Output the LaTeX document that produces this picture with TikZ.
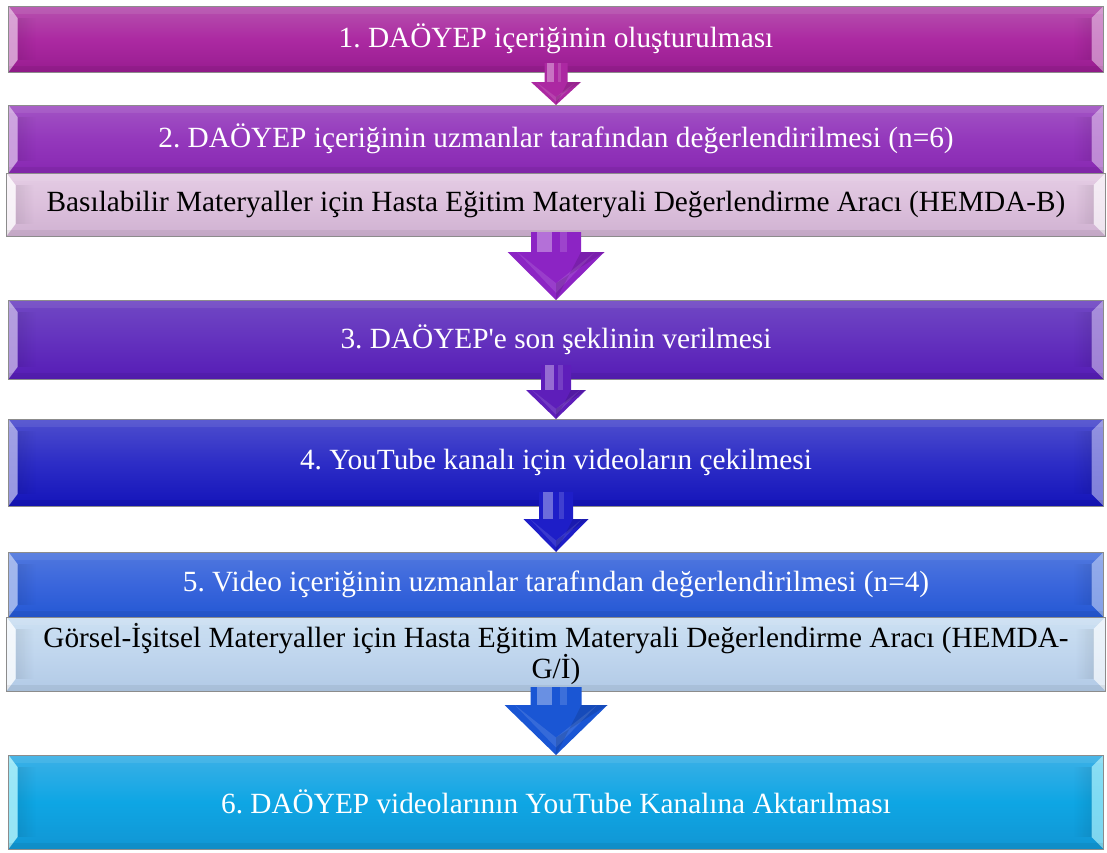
\documentclass[tikz,border=0pt]{standalone}
\usepackage{fontspec}
\setmainfont{Liberation Serif}
\usetikzlibrary{calc,fadings}
\frenchspacing
\definecolor{c1t}{RGB}{182,82,174}\definecolor{c1m}{RGB}{172,42,162}\definecolor{c1b}{RGB}{152,28,144}
\definecolor{c2t}{RGB}{162,84,196}\definecolor{c2m}{RGB}{148,56,188}\definecolor{c2b}{RGB}{136,40,178}
\definecolor{s1t}{RGB}{228,204,228}\definecolor{s1m}{RGB}{220,192,220}\definecolor{s1b}{RGB}{208,178,210}
\definecolor{c3t}{RGB}{112,72,196}\definecolor{c3m}{RGB}{100,50,190}\definecolor{c3b}{RGB}{86,28,182}
\definecolor{c4t}{RGB}{78,78,206}\definecolor{c4m}{RGB}{45,45,198}\definecolor{c4b}{RGB}{20,20,186}
\definecolor{c5t}{RGB}{80,120,222}\definecolor{c5m}{RGB}{58,102,220}\definecolor{c5b}{RGB}{36,88,212}
\definecolor{s2t}{RGB}{204,224,242}\definecolor{s2m}{RGB}{192,214,238}\definecolor{s2b}{RGB}{178,202,230}
\definecolor{c6t}{RGB}{60,176,230}\definecolor{c6m}{RGB}{14,166,228}\definecolor{c6b}{RGB}{18,150,212}
\definecolor{a1}{RGB}{172,40,162}\definecolor{a2}{RGB}{140,36,196}\definecolor{a3}{RGB}{94,30,186}
\definecolor{a4}{RGB}{30,30,200}\definecolor{a5}{RGB}{26,86,212}
\tikzset{
  box/.style={draw=black!45, line width=1pt, minimum width=1095pt, inner sep=0pt, outer sep=0pt,
    font=\fontsize{29.3}{30}\selectfont, text=white, align=center},
  subbox/.style={box, minimum width=1099pt, text=black},
}
\newcommand\bev[2]{%
  \fill[#2, opacity=0.8] (#1.north west) -- ++(9,12) -- ($(#1.south west)+(9,-12)$) -- (#1.south west) -- cycle;
  \fill[black, path fading=east, opacity=0.08] ($(#1.north west)+(9,12)$) -- ++(18,0) -- ($(#1.south west)+(27,-12)$) -- ($(#1.south west)+(9,-12)$) -- cycle;
  \fill[#2, opacity=0.65] (#1.north east) -- ++(-12,12) -- ($(#1.south east)+(-12,-12)$) -- (#1.south east) -- cycle;
  \fill[black, path fading=west, opacity=0.08] ($(#1.north east)+(-12,12)$) -- ++(-18,0) -- ($(#1.south east)+(-30,-12)$) -- ($(#1.south east)+(-12,-12)$) -- cycle;
  \fill[white, opacity=0.08] (#1.north west) rectangle ($(#1.north east)+(0,8)$);
  \fill[black, opacity=0.06] ($(#1.south west)+(0,-6)$) rectangle (#1.south east);
  \draw[black!45, line width=1pt] (#1.north west) rectangle (#1.south east);
}
% from, to, shaft half width, head half width, head length, overlap, colour
\newcommand\barrow[7]{%
  \fill[#7] ($(#1.south)+(-#3,-#6)$) -- ($(#2.north)+(-#3,-#5)$) -- ($(#2.north)+(-#4,-#5)$)
     -- (#2.north) -- ($(#2.north)+(#4,-#5)$) -- ($(#2.north)+(#3,-#5)$) -- ($(#1.south)+(#3,-#6)$) -- cycle;
  \fill[white, opacity=0.35] ($(#1.south)+(-#3*0.75,-#6)$) rectangle ($(#2.north)+(-#3*0.15,-#5)$);
  \fill[white, opacity=0.15] ($(#1.south)+(#3*0.15,-#6)$) rectangle ($(#2.north)+(#3*0.45,-#5)$);
  \fill[white, opacity=0.12] ($(#2.north)+(-#4*0.8,-#5)$) -- ($(#2.north)+(0,-#5*0.35)$) -- ($(#2.north)+(#4*0.8,-#5)$) -- ($(#2.north)+(0,-#5*0.15)$) -- cycle;
  \fill[black, opacity=0.12] ($(#2.north)+(0,-#5*0.35)$) -- ($(#2.north)+(#4,-#5)$) -- ($(#2.north)+(#3,-#5)$) -- (#2.north) -- cycle;
}
\begin{document}
\begin{tikzpicture}[x=1pt,y=-1pt]
\useasboundingbox (0,0) rectangle (1107,852);
\fill[white] (0,0) rectangle (1107,852);
\node[box, minimum height=66pt, top color=c1t, bottom color=c1b, middle color=c1m] (b1) at (556,39) {1. DAÖYEP içeriğinin oluşturulması};
\node[box, minimum height=68pt, top color=c2t, bottom color=c2b, middle color=c2m] (b2) at (556,139) {2. DAÖYEP içeriğinin uzmanlar tarafından değerlendirilmesi (n=6)};
\node[subbox, minimum height=63pt, top color=s1t, bottom color=s1b, middle color=s1m] (s1) at (556,204.5) {Basılabilir Materyaller için Hasta Eğitim Materyali Değerlendirme Aracı (HEMDA-B)};
\node[box, minimum height=79pt, top color=c3t, bottom color=c3b, middle color=c3m] (b3) at (556,339.5) {3. DAÖYEP\textquotesingle e son şeklinin verilmesi};
\node[box, minimum height=87pt, top color=c4t, bottom color=c4b, middle color=c4m] (b4) at (556,462.5) {4. YouTube kanalı için videoların çekilmesi};
\node[box, minimum height=65pt, top color=c5t, bottom color=c5b, middle color=c5m] (b5) at (556,584.5) {5. Video içeriğinin uzmanlar tarafından değerlendirilmesi (n=4)};
\node[subbox, minimum height=74pt, top color=s2t, bottom color=s2b, middle color=s2m] (s2) at (556,654) {Görsel-İşitsel Materyaller için Hasta Eğitim Materyali Değerlendirme Aracı (HEMDA-\\G/İ)};
\node[box, minimum height=94pt, top color=c6t, bottom color=c6b, middle color=c6m] (b6) at (556,802) {6. DAÖYEP videolarının YouTube Kanalına Aktarılması};
\bev{b1}{c1t!40!white}
\bev{b2}{c2t!40!white}
\bev{s1}{white}
\bev{b3}{c3t!40!white}
\bev{b4}{c4t!40!white}
\bev{b5}{c5t!40!white}
\bev{s2}{white}
\bev{b6}{c6t!35!cyan!30!white}
\barrow{b1}{b2}{11.5}{25}{23}{9}{a1}
\barrow{s1}{b3}{25}{48.5}{48}{4}{a2}
\barrow{b3}{b4}{15}{30}{29}{14}{a3}
\barrow{b4}{b5}{17}{32.5}{33}{14}{a4}
\barrow{s2}{b6}{25.5}{51.5}{50}{4}{a5}
\end{tikzpicture}
\end{document}
